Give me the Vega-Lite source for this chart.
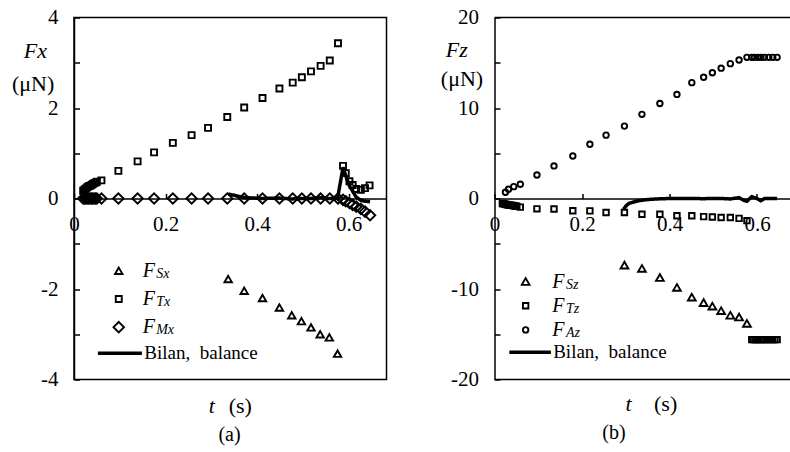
{
  "$schema": "https://vega.github.io/schema/vega-lite/v6.json",
  "background": "white",
  "padding": {"left": 10, "top": 5.5, "right": 0, "bottom": 0},
  "config": {
    "font": "Liberation Serif",
    "view": {"stroke": "black", "strokeWidth": 1.5},
    "axis": {"labelFont": "Liberation Serif", "titleFont": "Liberation Serif", "labelColor": "black", "titleColor": "black", "domainColor": "black", "tickColor": "black", "grid": false, "labelFontSize": 21, "titleFontSize": 22, "titleFontWeight": "normal", "domainWidth": 1.5, "tickWidth": 1.5, "labelFlush": false, "labelOverlap": false},
    "legend": {"labelFont": "Liberation Serif", "labelColor": "black", "padding": 0},
    "title": {"font": "Liberation Serif", "fontWeight": "normal", "color": "black", "fontSize": 20}
  },
  "datasets": {
    "lp": [
      {"t":0.337,"F":-1.78,"s":"FSx","sub":"Sx"},{"t":0.372,"F":-2.04,"s":"FSx","sub":"Sx"},{"t":0.412,"F":-2.20,"s":"FSx","sub":"Sx"},{"t":0.449,"F":-2.41,"s":"FSx","sub":"Sx"},{"t":0.476,"F":-2.58,"s":"FSx","sub":"Sx"},{"t":0.497,"F":-2.71,"s":"FSx","sub":"Sx"},{"t":0.518,"F":-2.85,"s":"FSx","sub":"Sx"},{"t":0.538,"F":-3.00,"s":"FSx","sub":"Sx"},{"t":0.558,"F":-3.07,"s":"FSx","sub":"Sx"},{"t":0.576,"F":-3.43,"s":"FSx","sub":"Sx"},
      {"t":0.020,"F":0.17,"s":"FTx","sub":"Tx"},{"t":0.023,"F":0.20,"s":"FTx","sub":"Tx"},{"t":0.026,"F":0.22,"s":"FTx","sub":"Tx"},{"t":0.029,"F":0.25,"s":"FTx","sub":"Tx"},{"t":0.032,"F":0.27,"s":"FTx","sub":"Tx"},{"t":0.035,"F":0.28,"s":"FTx","sub":"Tx"},{"t":0.038,"F":0.30,"s":"FTx","sub":"Tx"},{"t":0.041,"F":0.32,"s":"FTx","sub":"Tx"},{"t":0.044,"F":0.34,"s":"FTx","sub":"Tx"},{"t":0.047,"F":0.35,"s":"FTx","sub":"Tx"},{"t":0.050,"F":0.37,"s":"FTx","sub":"Tx"},{"t":0.060,"F":0.40,"s":"FTx","sub":"Tx"},{"t":0.097,"F":0.61,"s":"FTx","sub":"Tx"},{"t":0.139,"F":0.82,"s":"FTx","sub":"Tx"},{"t":0.175,"F":1.02,"s":"FTx","sub":"Tx"},{"t":0.216,"F":1.23,"s":"FTx","sub":"Tx"},{"t":0.257,"F":1.40,"s":"FTx","sub":"Tx"},{"t":0.293,"F":1.56,"s":"FTx","sub":"Tx"},{"t":0.335,"F":1.80,"s":"FTx","sub":"Tx"},{"t":0.372,"F":2.01,"s":"FTx","sub":"Tx"},{"t":0.412,"F":2.22,"s":"FTx","sub":"Tx"},{"t":0.449,"F":2.43,"s":"FTx","sub":"Tx"},{"t":0.478,"F":2.56,"s":"FTx","sub":"Tx"},{"t":0.498,"F":2.68,"s":"FTx","sub":"Tx"},{"t":0.518,"F":2.81,"s":"FTx","sub":"Tx"},{"t":0.539,"F":2.93,"s":"FTx","sub":"Tx"},{"t":0.559,"F":3.05,"s":"FTx","sub":"Tx"},{"t":0.577,"F":3.43,"s":"FTx","sub":"Tx"},{"t":0.588,"F":0.72,"s":"FTx","sub":"Tx"},{"t":0.594,"F":0.56,"s":"FTx","sub":"Tx"},{"t":0.602,"F":0.38,"s":"FTx","sub":"Tx"},{"t":0.609,"F":0.30,"s":"FTx","sub":"Tx"},{"t":0.617,"F":0.21,"s":"FTx","sub":"Tx"},{"t":0.627,"F":0.19,"s":"FTx","sub":"Tx"},{"t":0.636,"F":0.23,"s":"FTx","sub":"Tx"},{"t":0.646,"F":0.29,"s":"FTx","sub":"Tx"},
      {"t":0.020,"F":0,"s":"FMx","sub":"Mx"},{"t":0.023,"F":0,"s":"FMx","sub":"Mx"},{"t":0.026,"F":0,"s":"FMx","sub":"Mx"},{"t":0.029,"F":0,"s":"FMx","sub":"Mx"},{"t":0.032,"F":0,"s":"FMx","sub":"Mx"},{"t":0.035,"F":0,"s":"FMx","sub":"Mx"},{"t":0.038,"F":0,"s":"FMx","sub":"Mx"},{"t":0.041,"F":0,"s":"FMx","sub":"Mx"},{"t":0.044,"F":0,"s":"FMx","sub":"Mx"},{"t":0.047,"F":0,"s":"FMx","sub":"Mx"},{"t":0.050,"F":0,"s":"FMx","sub":"Mx"},{"t":0.060,"F":0,"s":"FMx","sub":"Mx"},{"t":0.097,"F":0,"s":"FMx","sub":"Mx"},{"t":0.139,"F":0,"s":"FMx","sub":"Mx"},{"t":0.175,"F":0,"s":"FMx","sub":"Mx"},{"t":0.216,"F":0,"s":"FMx","sub":"Mx"},{"t":0.257,"F":0,"s":"FMx","sub":"Mx"},{"t":0.293,"F":0,"s":"FMx","sub":"Mx"},{"t":0.335,"F":0,"s":"FMx","sub":"Mx"},{"t":0.372,"F":0,"s":"FMx","sub":"Mx"},{"t":0.412,"F":0,"s":"FMx","sub":"Mx"},{"t":0.449,"F":0,"s":"FMx","sub":"Mx"},{"t":0.478,"F":0,"s":"FMx","sub":"Mx"},{"t":0.498,"F":0,"s":"FMx","sub":"Mx"},{"t":0.518,"F":0,"s":"FMx","sub":"Mx"},{"t":0.539,"F":0,"s":"FMx","sub":"Mx"},{"t":0.559,"F":0,"s":"FMx","sub":"Mx"},{"t":0.577,"F":0,"s":"FMx","sub":"Mx"},{"t":0.588,"F":-0.03,"s":"FMx","sub":"Mx"},{"t":0.594,"F":-0.06,"s":"FMx","sub":"Mx"},{"t":0.602,"F":-0.10,"s":"FMx","sub":"Mx"},{"t":0.609,"F":-0.14,"s":"FMx","sub":"Mx"},{"t":0.617,"F":-0.18,"s":"FMx","sub":"Mx"},{"t":0.627,"F":-0.23,"s":"FMx","sub":"Mx"},{"t":0.636,"F":-0.29,"s":"FMx","sub":"Mx"},{"t":0.647,"F":-0.37,"s":"FMx","sub":"Mx"}
    ],
    "lb": [
      {"t":0.337,"F":0.10,"s":"Bilan"},{"t":0.372,"F":0.02,"s":"Bilan"},{"t":0.412,"F":0.0,"s":"Bilan"},{"t":0.449,"F":0.01,"s":"Bilan"},{"t":0.476,"F":-0.01,"s":"Bilan"},{"t":0.497,"F":0.0,"s":"Bilan"},{"t":0.518,"F":0.0,"s":"Bilan"},{"t":0.538,"F":0.02,"s":"Bilan"},{"t":0.558,"F":0.0,"s":"Bilan"},{"t":0.576,"F":0.0,"s":"Bilan"},{"t":0.588,"F":0.69,"s":"Bilan"},{"t":0.594,"F":0.50,"s":"Bilan"},{"t":0.602,"F":0.28,"s":"Bilan"},{"t":0.609,"F":0.16,"s":"Bilan"},{"t":0.617,"F":0.03,"s":"Bilan"},{"t":0.627,"F":-0.04,"s":"Bilan"},{"t":0.636,"F":-0.06,"s":"Bilan"},{"t":0.647,"F":-0.07,"s":"Bilan"}
    ],
    "rp": [
      {"t":0.297,"F":-7.36,"s":"FSz","sub":"Sz"},{"t":0.337,"F":-7.73,"s":"FSz","sub":"Sz"},{"t":0.378,"F":-8.73,"s":"FSz","sub":"Sz"},{"t":0.417,"F":-9.83,"s":"FSz","sub":"Sz"},{"t":0.451,"F":-10.9,"s":"FSz","sub":"Sz"},{"t":0.478,"F":-11.5,"s":"FSz","sub":"Sz"},{"t":0.498,"F":-11.9,"s":"FSz","sub":"Sz"},{"t":0.518,"F":-12.4,"s":"FSz","sub":"Sz"},{"t":0.539,"F":-12.9,"s":"FSz","sub":"Sz"},{"t":0.559,"F":-13.1,"s":"FSz","sub":"Sz"},{"t":0.577,"F":-13.8,"s":"FSz","sub":"Sz"},
      {"t":0.018,"F":-0.55,"s":"FTz","sub":"Tz"},{"t":0.021,"F":-0.58,"s":"FTz","sub":"Tz"},{"t":0.024,"F":-0.62,"s":"FTz","sub":"Tz"},{"t":0.027,"F":-0.66,"s":"FTz","sub":"Tz"},{"t":0.030,"F":-0.70,"s":"FTz","sub":"Tz"},{"t":0.033,"F":-0.72,"s":"FTz","sub":"Tz"},{"t":0.036,"F":-0.74,"s":"FTz","sub":"Tz"},{"t":0.039,"F":-0.76,"s":"FTz","sub":"Tz"},{"t":0.042,"F":-0.78,"s":"FTz","sub":"Tz"},{"t":0.045,"F":-0.81,"s":"FTz","sub":"Tz"},{"t":0.048,"F":-0.84,"s":"FTz","sub":"Tz"},{"t":0.051,"F":-0.86,"s":"FTz","sub":"Tz"},{"t":0.059,"F":-0.95,"s":"FTz","sub":"Tz"},{"t":0.097,"F":-1.14,"s":"FTz","sub":"Tz"},{"t":0.136,"F":-1.16,"s":"FTz","sub":"Tz"},{"t":0.179,"F":-1.36,"s":"FTz","sub":"Tz"},{"t":0.218,"F":-1.37,"s":"FTz","sub":"Tz"},{"t":0.255,"F":-1.55,"s":"FTz","sub":"Tz"},{"t":0.297,"F":-1.55,"s":"FTz","sub":"Tz"},{"t":0.337,"F":-1.74,"s":"FTz","sub":"Tz"},{"t":0.378,"F":-1.74,"s":"FTz","sub":"Tz"},{"t":0.417,"F":-1.91,"s":"FTz","sub":"Tz"},{"t":0.451,"F":-1.91,"s":"FTz","sub":"Tz"},{"t":0.478,"F":-2.0,"s":"FTz","sub":"Tz"},{"t":0.498,"F":-2.05,"s":"FTz","sub":"Tz"},{"t":0.518,"F":-2.1,"s":"FTz","sub":"Tz"},{"t":0.539,"F":-2.1,"s":"FTz","sub":"Tz"},{"t":0.559,"F":-2.2,"s":"FTz","sub":"Tz"},{"t":0.577,"F":-2.45,"s":"FTz","sub":"Tz"},{"t":0.588,"F":-15.6,"s":"FTz","sub":"Tz"},{"t":0.592,"F":-15.6,"s":"FTz","sub":"Tz"},{"t":0.596,"F":-15.6,"s":"FTz","sub":"Tz"},{"t":0.600,"F":-15.6,"s":"FTz","sub":"Tz"},{"t":0.604,"F":-15.6,"s":"FTz","sub":"Tz"},{"t":0.609,"F":-15.6,"s":"FTz","sub":"Tz"},{"t":0.613,"F":-15.6,"s":"FTz","sub":"Tz"},{"t":0.617,"F":-15.6,"s":"FTz","sub":"Tz"},{"t":0.622,"F":-15.6,"s":"FTz","sub":"Tz"},{"t":0.627,"F":-15.6,"s":"FTz","sub":"Tz"},{"t":0.632,"F":-15.6,"s":"FTz","sub":"Tz"},{"t":0.636,"F":-15.6,"s":"FTz","sub":"Tz"},{"t":0.641,"F":-15.6,"s":"FTz","sub":"Tz"},{"t":0.646,"F":-15.6,"s":"FTz","sub":"Tz"},
      {"t":0.025,"F":0.69,"s":"FAz","sub":"Az"},{"t":0.032,"F":1.02,"s":"FAz","sub":"Az"},{"t":0.044,"F":1.31,"s":"FAz","sub":"Az"},{"t":0.059,"F":1.57,"s":"FAz","sub":"Az"},{"t":0.097,"F":2.6,"s":"FAz","sub":"Az"},{"t":0.136,"F":3.6,"s":"FAz","sub":"Az"},{"t":0.179,"F":4.7,"s":"FAz","sub":"Az"},{"t":0.218,"F":6.0,"s":"FAz","sub":"Az"},{"t":0.255,"F":7.0,"s":"FAz","sub":"Az"},{"t":0.297,"F":8.0,"s":"FAz","sub":"Az"},{"t":0.337,"F":9.3,"s":"FAz","sub":"Az"},{"t":0.378,"F":10.5,"s":"FAz","sub":"Az"},{"t":0.417,"F":11.5,"s":"FAz","sub":"Az"},{"t":0.451,"F":12.8,"s":"FAz","sub":"Az"},{"t":0.478,"F":13.4,"s":"FAz","sub":"Az"},{"t":0.498,"F":13.9,"s":"FAz","sub":"Az"},{"t":0.518,"F":14.4,"s":"FAz","sub":"Az"},{"t":0.539,"F":14.9,"s":"FAz","sub":"Az"},{"t":0.559,"F":15.3,"s":"FAz","sub":"Az"},{"t":0.577,"F":15.6,"s":"FAz","sub":"Az"},{"t":0.588,"F":15.6,"s":"FAz","sub":"Az"},{"t":0.594,"F":15.6,"s":"FAz","sub":"Az"},{"t":0.602,"F":15.6,"s":"FAz","sub":"Az"},{"t":0.609,"F":15.6,"s":"FAz","sub":"Az"},{"t":0.617,"F":15.6,"s":"FAz","sub":"Az"},{"t":0.627,"F":15.6,"s":"FAz","sub":"Az"},{"t":0.636,"F":15.6,"s":"FAz","sub":"Az"},{"t":0.646,"F":15.6,"s":"FAz","sub":"Az"}
    ],
    "rb": [
      {"t":0.295,"F":-1.2,"s":"Bilan"},{"t":0.300,"F":-0.85,"s":"Bilan"},{"t":0.307,"F":-0.55,"s":"Bilan"},{"t":0.318,"F":-0.38,"s":"Bilan"},{"t":0.330,"F":-0.24,"s":"Bilan"},{"t":0.345,"F":-0.14,"s":"Bilan"},{"t":0.360,"F":-0.08,"s":"Bilan"},{"t":0.380,"F":-0.03,"s":"Bilan"},{"t":0.400,"F":0.0,"s":"Bilan"},{"t":0.451,"F":0.0,"s":"Bilan"},{"t":0.478,"F":-0.02,"s":"Bilan"},{"t":0.498,"F":0.0,"s":"Bilan"},{"t":0.518,"F":0.0,"s":"Bilan"},{"t":0.539,"F":-0.05,"s":"Bilan"},{"t":0.559,"F":0.1,"s":"Bilan"},{"t":0.570,"F":-0.2,"s":"Bilan"},{"t":0.577,"F":-0.3,"s":"Bilan"},{"t":0.588,"F":0.2,"s":"Bilan"},{"t":0.600,"F":0.0,"s":"Bilan"},{"t":0.609,"F":-0.25,"s":"Bilan"},{"t":0.617,"F":0.0,"s":"Bilan"},{"t":0.646,"F":0.0,"s":"Bilan"}
    ],
    "rborder": [{"F": 20}, {"F": -20}]
  },
  "spacing": 107.5,
  "bounds": "flush",
  "resolve": {"scale": {"shape": "independent", "size": "independent", "color": "independent", "strokeDash": "independent"}, "legend": {"shape": "independent", "size": "independent", "color": "independent", "strokeDash": "independent"}},
  "hconcat": [
    {
      "width": 312.5,
      "height": 362,
      "title": {"text": "(a)", "orient": "bottom", "anchor": "start", "frame": "group", "align": "center", "dx": 155.5, "offset": 8},
      "resolve": {"axis": {"x": "independent", "y": "independent"}},
      "layer": [
        {
          "data": {"name": "lp"},
          "mark": {"type": "point", "filled": false, "strokeWidth": 1.9, "opacity": 1, "color": "black"},
          "encoding": {
            "x": {"field": "t", "type": "quantitative", "scale": {"domain": [0, 0.683], "nice": false, "zero": false},
                  "axis": {"orient": "bottom", "offset": -181, "values": [0, 0.2, 0.4, 0.6], "labelExpr": "datum.value == 0 ? '0' : format(datum.value, '.1f')", "tickSize": -5, "labelPadding": 20, "title": "t", "titleFontStyle": "italic", "titleX": 134.2, "titleY": 214, "titleAlign": "left", "titleBaseline": "alphabetic"}},
            "y": {"field": "F", "type": "quantitative", "scale": {"domain": [-4, 4], "nice": false},
                  "axis": {"orient": "left", "values": [-4, -3, -2, -1, 0, 1, 2, 3, 4], "labelExpr": "datum.value % 2 == 0 ? (datum.value < 0 ? '-' + format(-datum.value, 'd') : format(datum.value, 'd')) : ''", "tickSize": -5.5, "labelPadding": 21.5, "title": "Fx", "titleFontStyle": "italic", "titleAngle": 0, "titleX": -50.8, "titleY": 40, "titleAlign": "left", "titleBaseline": "alphabetic"}},
            "shape": {"field": "s", "type": "nominal", "scale": {"domain": ["FSx", "FTx", "FMx"], "range": ["triangle-up", "square", "diamond"]},
                      "legend": {"title": null, "orient": "none", "legendX": 34.75, "legendY": 243.3, "labelExpr": "'F'", "labelFontStyle": "italic", "labelFontSize": 20, "labelOffset": 14, "rowPadding": 8.2, "symbolStrokeColor": "black", "symbolFillColor": "transparent", "symbolStrokeWidth": 1.9, "symbolOpacity": 1}},
            "size": {"field": "s", "type": "nominal", "scale": {"type": "ordinal", "domain": ["FSx", "FTx", "FMx"], "range": [55, 36, 110]},
                     "legend": {"title": null, "orient": "none", "legendX": 34.75, "legendY": 243.3, "labelExpr": "'F'", "labelFontStyle": "italic", "labelFontSize": 20, "labelOffset": 14, "rowPadding": 8.2, "symbolStrokeColor": "black", "symbolFillColor": "transparent", "symbolStrokeWidth": 1.9, "symbolOpacity": 1}},
            "color": {"field": "sub", "type": "nominal", "scale": {"domain": ["Sx", "Tx", "Mx"], "range": ["black", "black", "black"]},
                      "legend": {"title": null, "orient": "none", "legendX": 68.2, "legendY": 249.5, "labelFontStyle": "italic", "labelFontSize": 14, "labelOffset": 0, "rowPadding": 14.2, "symbolSize": 1, "symbolOpacity": 0, "symbolStrokeWidth": 0}}
          }
        },
        {
          "data": {"name": "lb"},
          "mark": {"type": "line", "color": "black", "strokeWidth": 3.5, "opacity": 1},
          "encoding": {
            "x": {"field": "t", "type": "quantitative", "scale": {"domain": [0, 0.683], "nice": false, "zero": false},
                  "axis": {"orient": "bottom", "domain": false, "ticks": false, "labels": false, "title": "(s)", "titleX": 154.2, "titleY": 33, "titleAlign": "left", "titleBaseline": "alphabetic"}},
            "y": {"field": "F", "type": "quantitative", "scale": {"domain": [-4, 4], "nice": false},
                  "axis": {"orient": "left", "domain": false, "ticks": false, "labels": false, "title": "(μN)", "titleAngle": 0, "titleX": -62.5, "titleY": 73, "titleAlign": "left", "titleBaseline": "alphabetic"}},
            "strokeDash": {"field": "s", "type": "nominal", "scale": {"domain": ["Bilan"], "range": [[1, 0]]},
                           "legend": {"title": null, "orient": "none", "legendX": 21.9, "legendY": 311.7, "labelExpr": "'Bilan,\u00a0 balance'", "labelFontSize": 19, "labelOffset": 0.4, "symbolType": "stroke", "symbolSize": 1936, "symbolStrokeWidth": 3.5, "symbolStrokeColor": "black"}}
          }
        }
      ]
    },
    {
      "width": 297.5,
      "height": 362,
      "view": {"stroke": null},
      "title": {"text": "(b)", "orient": "bottom", "anchor": "start", "frame": "group", "align": "center", "dx": 119.5, "offset": 8},
      "resolve": {"axis": {"x": "independent", "y": "independent"}},
      "layer": [
        {
          "data": {"name": "rborder"},
          "mark": {"type": "rule", "color": "black", "strokeWidth": 1.5},
          "encoding": {
            "y": {"field": "F", "type": "quantitative", "scale": {"domain": [-20, 20], "nice": false}, "axis": null}
          }
        },
        {
          "data": {"name": "rp"},
          "mark": {"type": "point", "filled": false, "strokeWidth": 1.9, "opacity": 1, "color": "black"},
          "encoding": {
            "x": {"field": "t", "type": "quantitative", "scale": {"domain": [0, 0.68], "nice": false, "zero": false},
                  "axis": {"orient": "bottom", "offset": -181, "values": [0, 0.2, 0.4, 0.6], "labelExpr": "datum.value == 0 ? '0' : format(datum.value, '.1f')", "tickSize": -5, "labelPadding": 20, "title": "t", "titleFontStyle": "italic", "titleX": 130.5, "titleY": 212, "titleAlign": "left", "titleBaseline": "alphabetic"}},
            "y": {"field": "F", "type": "quantitative", "scale": {"domain": [-20, 20], "nice": false},
                  "axis": {"orient": "left", "values": [-20, -15, -10, -5, 0, 5, 10, 15, 20], "labelExpr": "datum.value % 10 == 0 ? (datum.value < 0 ? '-' + format(-datum.value, 'd') : format(datum.value, 'd')) : ''", "tickSize": -5.5, "labelPadding": 21.5, "title": "Fz", "titleFontStyle": "italic", "titleAngle": 0, "titleX": -49.2, "titleY": 39, "titleAlign": "left", "titleBaseline": "alphabetic"}},
            "shape": {"field": "s", "type": "nominal", "scale": {"domain": ["FSz", "FTz", "FAz"], "range": ["triangle-up", "square", "circle"]},
                      "legend": {"title": null, "orient": "none", "legendX": 21.15, "legendY": 254, "labelExpr": "'F'", "labelFontStyle": "italic", "labelFontSize": 20, "labelOffset": 16.6, "rowPadding": 4.2, "symbolStrokeColor": "black", "symbolFillColor": "transparent", "symbolStrokeWidth": 1.9, "symbolOpacity": 1}},
            "size": {"field": "s", "type": "nominal", "scale": {"type": "ordinal", "domain": ["FSz", "FTz", "FAz"], "range": [60, 30, 30]},
                     "legend": {"title": null, "orient": "none", "legendX": 21.15, "legendY": 254, "labelExpr": "'F'", "labelFontStyle": "italic", "labelFontSize": 20, "labelOffset": 16.6, "rowPadding": 4.2, "symbolStrokeColor": "black", "symbolFillColor": "transparent", "symbolStrokeWidth": 1.9, "symbolOpacity": 1}},
            "color": {"field": "sub", "type": "nominal", "scale": {"domain": ["Sz", "Tz", "Az"], "range": ["black", "black", "black"]},
                      "legend": {"title": null, "orient": "none", "legendX": 57.5, "legendY": 260, "labelFontStyle": "italic", "labelFontSize": 14, "labelOffset": 0, "rowPadding": 10.2, "symbolSize": 1, "symbolOpacity": 0, "symbolStrokeWidth": 0}}
          }
        },
        {
          "data": {"name": "rb"},
          "mark": {"type": "line", "color": "black", "strokeWidth": 3.5, "opacity": 1},
          "encoding": {
            "x": {"field": "t", "type": "quantitative", "scale": {"domain": [0, 0.68], "nice": false, "zero": false},
                  "axis": {"orient": "bottom", "domain": false, "ticks": false, "labels": false, "title": "(s)", "titleX": 159, "titleY": 31, "titleAlign": "left", "titleBaseline": "alphabetic"}},
            "y": {"field": "F", "type": "quantitative", "scale": {"domain": [-20, 20], "nice": false},
                  "axis": {"orient": "left", "domain": false, "ticks": false, "labels": false, "title": "(μN)", "titleAngle": 0, "titleX": -54.2, "titleY": 68, "titleAlign": "left", "titleBaseline": "alphabetic"}},
            "strokeDash": {"field": "s", "type": "nominal", "scale": {"domain": ["Bilan"], "range": [[1, 0]]},
                           "legend": {"title": null, "orient": "none", "legendX": 12.6, "legendY": 311.7, "labelExpr": "'Bilan,\u00a0 balance'", "labelFontSize": 19, "labelOffset": 0.1, "symbolType": "stroke", "symbolSize": 1731, "symbolStrokeWidth": 3.5, "symbolStrokeColor": "black"}}
          }
        }
      ]
    }
  ]
}
